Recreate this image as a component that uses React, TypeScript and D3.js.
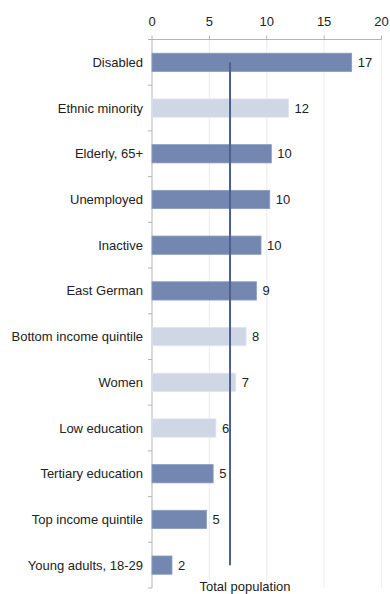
import React from "react";
import * as d3 from "d3";

const categories = [
  "Disabled",
  "Ethnic minority",
  "Elderly, 65+",
  "Unemployed",
  "Inactive",
  "East German",
  "Bottom income quintile",
  "Women",
  "Low education",
  "Tertiary education",
  "Top income quintile",
  "Young adults, 18-29",
];
const values = [17.4, 11.9, 10.4, 10.26, 9.5, 9.1, 8.2, 7.3, 5.57, 5.33, 4.75, 1.74];
const valueLabels = ["17", "12", "10", "10", "10", "9", "8", "7", "6", "5", "5", "2"];
const highlighted = [false, true, false, false, false, false, true, true, true, false, false, false];
const totalPopulation = 6.8;
const xTicks = [0, 5, 10, 15, 20];

const W = 390;
const H = 594;
const left = 152;
const right = 381.5;
const top = 39.5;
const bottom = 588;

export default function App() {
  const x = d3.scaleLinear().domain([0, 20]).range([left, right]);
  const y = d3.scaleBand<string>().domain(categories).range([top, bottom]).paddingInner(0.6).paddingOuter(0.3);
  const step = y.step();
  const font = "Liberation Sans, Arial, sans-serif";
  const dark = "#7387B1";
  const light = "#CFD7E5";
  const lineColor = "#4E608B";
  const firstCenter = (y(categories[0]) ?? 0) + y.bandwidth() / 2;
  const lastCenter = (y(categories[categories.length - 1]) ?? 0) + y.bandwidth() / 2;

  return (
    <div style={{ position: "absolute", left: 0, top: 0 }}>
      <svg width={W} height={H} style={{ display: "block" }} fontFamily={font}>
        <rect width={W} height={H} fill="#fff" />
        {xTicks.slice(1).map((t) => (
          <line key={"g" + t} x1={x(t)} x2={x(t)} y1={top} y2={bottom} stroke="#ececec" strokeWidth={1} />
        ))}
        <line x1={left} x2={right} y1={top} y2={top} stroke="#b3b3b3" strokeWidth={1} />
        {xTicks.map((t) => (
          <g key={"t" + t}>
            <line x1={x(t)} x2={x(t)} y1={top - 4} y2={top} stroke="#b3b3b3" strokeWidth={1} />
            <text x={x(t)} y={26} textAnchor="middle" fontSize={13} fill="#222">
              {t}
            </text>
          </g>
        ))}
        <line x1={left} x2={left} y1={top} y2={bottom} stroke="#b3b3b3" strokeWidth={1} />
        {d3.range(categories.length + 1).map((i) => (
          <line key={"yt" + i} x1={left - 4} x2={left} y1={top + i * step} y2={top + i * step} stroke="#b3b3b3" strokeWidth={1} />
        ))}
        {categories.map((c, i) => {
          const yy = y(c) ?? 0;
          const cy = yy + y.bandwidth() / 2;
          return (
            <g key={c}>
              <rect
                x={x(0)}
                y={yy}
                width={x(values[i]) - x(0)}
                height={y.bandwidth()}
                fill={highlighted[i] ? light : dark}
                stroke={highlighted[i] ? "#dfe5ee" : "#8a9cc0"}
                strokeWidth={0.8}
              />
              <text x={143} y={cy} dy="0.35em" textAnchor="end" fontSize={13} fill="#222">
                {c}
              </text>
              <text x={x(values[i]) + 6} y={cy} dy="0.35em" fontSize={13} fill="#222">
                {valueLabels[i]}
              </text>
            </g>
          );
        })}
        <line
          x1={x(totalPopulation)}
          x2={x(totalPopulation)}
          y1={firstCenter}
          y2={lastCenter}
          stroke={lineColor}
          strokeWidth={2}
        />
        <text x={245} y={586} dy="0.35em" textAnchor="middle" fontSize={13} fill="#222">
          Total population
        </text>
      </svg>
    </div>
  );
}
